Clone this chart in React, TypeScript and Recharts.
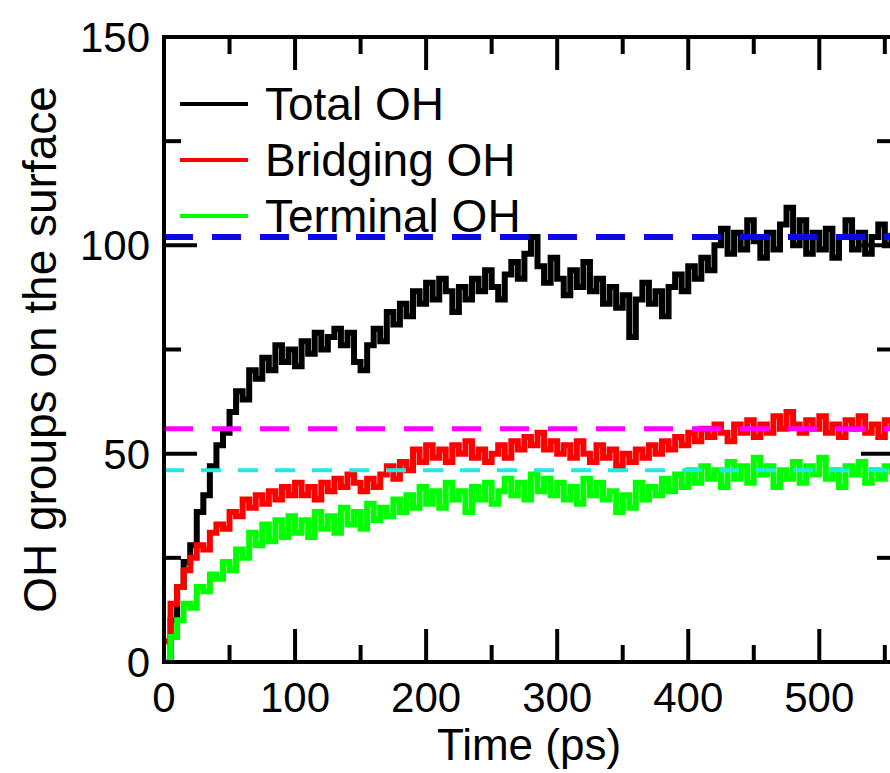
import { LineChart, Line, XAxis, YAxis, ReferenceLine, Legend } from "recharts";

// time axis, ps
const time = [
  0, 5, 10, 15, 20, 25, 30, 35, 40, 45, 50, 55, 60, 65, 70, 75, 80, 85, 90, 95,
  100, 105, 110, 115, 120, 125, 130, 135, 140, 145, 150, 155, 160, 165, 170, 175, 180, 185, 190, 195,
  200, 205, 210, 215, 220, 225, 230, 235, 240, 245, 250, 255, 260, 265, 270, 275, 280, 285, 290, 295,
  300, 305, 310, 315, 320, 325, 330, 335, 340, 345, 350, 355, 360, 365, 370, 375, 380, 385, 390, 395,
  400, 405, 410, 415, 420, 425, 430, 435, 440, 445, 450, 455, 460, 465, 470, 475, 480, 485, 490, 495,
  500, 505, 510, 515, 520, 525, 530, 535, 540, 545, 550, 555
];

const totalOH = [
  0, 10, 18, 24, 28, 36, 40, 47, 52, 55, 60, 65, 63, 70, 68, 73, 70, 76, 72, 75,
  71, 77, 74, 79, 75, 78, 80, 76, 79, 72, 70, 76, 80, 77, 84, 81, 86, 83, 89, 86,
  91, 87, 92, 89, 84, 90, 87, 92, 89, 94, 90, 87, 93, 96, 92, 98, 102, 95, 91, 97,
  92, 88, 94, 90, 96, 89, 92, 86, 90, 85, 88, 78, 87, 91, 86, 89, 83, 90, 93, 89,
  95, 92, 97, 94, 100, 104, 98, 103, 99, 106, 101, 97, 103, 99, 105, 109, 100, 106, 98, 103,
  99, 104, 97, 102, 106, 99, 103, 98, 102, 105, 100, 103
];

const bridgingOH = [
  5, 14, 18, 22, 25, 28, 27, 31, 33, 32, 36, 35, 39, 37, 40, 38, 41, 39, 42, 40,
  43, 40, 42, 39, 43, 41, 44, 42, 45, 43, 41, 44, 42, 45, 47, 44, 48, 46, 51, 48,
  52, 49, 51, 48, 52, 50, 53, 49, 51, 48, 50, 52, 49, 53, 51, 54, 52, 55, 51, 53,
  50, 52, 49, 53, 50, 48, 52, 49, 51, 47, 50, 48, 51, 49, 52, 50, 53, 51, 54, 52,
  55, 53, 56, 54, 57, 55, 53, 57, 55, 58, 54, 57, 55, 59, 56, 60, 57, 55, 58, 56,
  59, 55, 57, 54, 58, 56, 59, 55, 57, 54, 58, 56
];

const terminalOH = [
  0, 6, 10, 14, 13, 18, 17, 21, 20, 24, 22, 27, 25, 31, 28, 33, 29, 34, 30, 35,
  31, 34, 30, 36, 32, 35, 31, 37, 33, 36, 32, 38, 34, 37, 35, 39, 36, 40, 37, 42,
  38, 41, 37, 43, 39, 41, 36, 42, 39, 43, 38, 41, 44, 40, 43, 39, 45, 41, 44, 40,
  43, 39, 42, 38, 44, 40, 43, 39, 41, 36, 40, 37, 43, 39, 42, 40, 44, 41, 45, 42,
  46, 43, 47, 44, 46, 42, 48, 44, 47, 43, 49, 45, 47, 42, 46, 44, 48, 43, 47, 45,
  49, 44, 46, 42, 47, 45, 48, 43, 46, 44, 47, 45
];

// dashed plateau levels
const plateauTotal = 102;
const plateauBridging = 56;
const plateauTerminal = 46;

const seriesNames = ["Total OH", "Bridging OH", "Terminal OH"];
const xTicks = [0, 50, 100, 150, 200, 250, 300, 350, 400, 450, 500, 550];
const yTicks = [0, 25, 50, 75, 100, 125, 150];

const data = time.map((t, i) => ({
  t,
  total: totalOH[i],
  bridging: bridgingOH[i],
  terminal: terminalOH[i]
}));

const FONT = "'Liberation Sans', Arial, Helvetica, sans-serif";
const MAJOR = 33;
const MINOR = 17;
const axisStyle = { stroke: "#000", strokeWidth: 4, strokeLinecap: "square" as const };

const BottomTick = (props: any) => {
  const { x, y, payload } = props;
  const major = payload.value % 100 === 0;
  return (
    <g>
      <line x1={x} x2={x} y1={y} y2={y - (major ? MAJOR : MINOR)} stroke="#000" strokeWidth={4} />
      {major && (
        <text x={x} y={y + 50} textAnchor="middle" fontSize={42} fontFamily={FONT} fill="#000">
          {payload.value}
        </text>
      )}
    </g>
  );
};

const TopTick = (props: any) => {
  const { x, y, payload } = props;
  const major = payload.value % 100 === 0;
  return <line x1={x} x2={x} y1={y} y2={y + (major ? MAJOR : MINOR)} stroke="#000" strokeWidth={4} />;
};

const LeftTick = (props: any) => {
  const { x, y, payload } = props;
  const major = payload.value % 50 === 0;
  return (
    <g>
      <line x1={x} x2={x + (major ? MAJOR : MINOR)} y1={y} y2={y} stroke="#000" strokeWidth={4} />
      {major && (
        <text x={x - 14} y={y} dy="0.36em" textAnchor="end" fontSize={42} fontFamily={FONT} fill="#000">
          {payload.value}
        </text>
      )}
    </g>
  );
};

const RightTick = (props: any) => {
  const { x, y, payload } = props;
  const major = payload.value % 50 === 0;
  return <line x1={x} x2={x - (major ? MAJOR : MINOR)} y1={y} y2={y} stroke="#000" strokeWidth={4} />;
};

const XTitle = (props: any) => {
  const { viewBox } = props;
  return (
    <text x={viewBox.x + viewBox.width / 2} y={viewBox.y + 98} textAnchor="middle" fontSize={44} fontFamily={FONT} fill="#000">
      Time (ps)
    </text>
  );
};

const YTitle = (props: any) => {
  const { viewBox } = props;
  const cx = viewBox.x + 39;
  const cy = viewBox.y + viewBox.height / 2;
  return (
    <text x={cx} y={cy} dy="0.36em" transform={`rotate(-90, ${cx}, ${cy})`} textAnchor="middle" fontSize={46} fontFamily={FONT} fill="#000">
      OH groups on the surface
    </text>
  );
};

const LegendBox = (props: any) => {
  const items = [...(props.payload || [])].sort(
    (a: any, b: any) => seriesNames.indexOf(a.value) - seriesNames.indexOf(b.value)
  );
  return (
    <div style={{ fontFamily: FONT }}>
      {items.map((p: any) => (
        <div key={p.value} style={{ display: "flex", alignItems: "center", height: 56 }}>
          <svg width={68} height={8}>
            <line x1={0} x2={68} y1={4} y2={4} stroke={p.color} strokeWidth={4} />
          </svg>
          <span style={{ marginLeft: 17, fontSize: 46, color: "#000", lineHeight: "56px" }}>{p.value}</span>
        </div>
      ))}
    </div>
  );
};

export default function App() {
  return (
    <div style={{ position: "absolute", left: 0, top: 0, width: 890, height: 773, overflow: "hidden", background: "#fff" }}>
      <LineChart width={960} height={773} data={data} margin={{ top: 7, right: 56, bottom: 0, left: 0 }}>
        <XAxis
          dataKey="t"
          type="number"
          domain={[0, 557]}
          allowDataOverflow
          ticks={xTicks}
          interval={0}
          tickSize={0}
          tickMargin={0}
          tickLine={false}
          axisLine={axisStyle}
          tick={<BottomTick />}
          height={111}
          label={XTitle}
        />
        <XAxis
          xAxisId="top"
          orientation="top"
          dataKey="t"
          type="number"
          domain={[0, 557]}
          allowDataOverflow
          ticks={xTicks}
          interval={0}
          tickSize={0}
          tickMargin={0}
          tickLine={false}
          axisLine={axisStyle}
          tick={<TopTick />}
          height={30}
        />
        <YAxis
          type="number"
          domain={[0, 150]}
          allowDataOverflow
          ticks={yTicks}
          interval={0}
          tickSize={0}
          tickMargin={0}
          tickLine={false}
          axisLine={axisStyle}
          tick={<LeftTick />}
          width={164}
          label={YTitle}
        />
        <YAxis
          yAxisId="right"
          orientation="right"
          type="number"
          domain={[0, 150]}
          allowDataOverflow
          ticks={yTicks}
          interval={0}
          tickSize={0}
          tickMargin={0}
          tickLine={false}
          axisLine={axisStyle}
          tick={<RightTick />}
          width={10}
        />
        <Legend
          layout="vertical"
          align="center"
          verticalAlign="middle"
          content={<LegendBox />}
          wrapperStyle={{ left: 180, top: 76, width: "auto" }}
        />
        <Line type="stepAfter" dataKey="total" name="Total OH" stroke="#000000" strokeWidth={6} dot={false} isAnimationActive={false} />
        <Line type="stepAfter" dataKey="bridging" name="Bridging OH" stroke="#ff0000" strokeWidth={6} dot={false} isAnimationActive={false} />
        <Line type="stepAfter" dataKey="terminal" name="Terminal OH" stroke="#00ff00" strokeWidth={6} dot={false} isAnimationActive={false} />
        <ReferenceLine y={plateauTotal} stroke="#0a0ae6" strokeWidth={6} strokeDasharray="29 19" />
        <ReferenceLine y={plateauBridging} stroke="#ff00ff" strokeWidth={5} strokeDasharray="29 19" />
        <ReferenceLine y={plateauTerminal} stroke="#22e8e8" strokeWidth={4} strokeDasharray="20 17" />
      </LineChart>
    </div>
  );
}
